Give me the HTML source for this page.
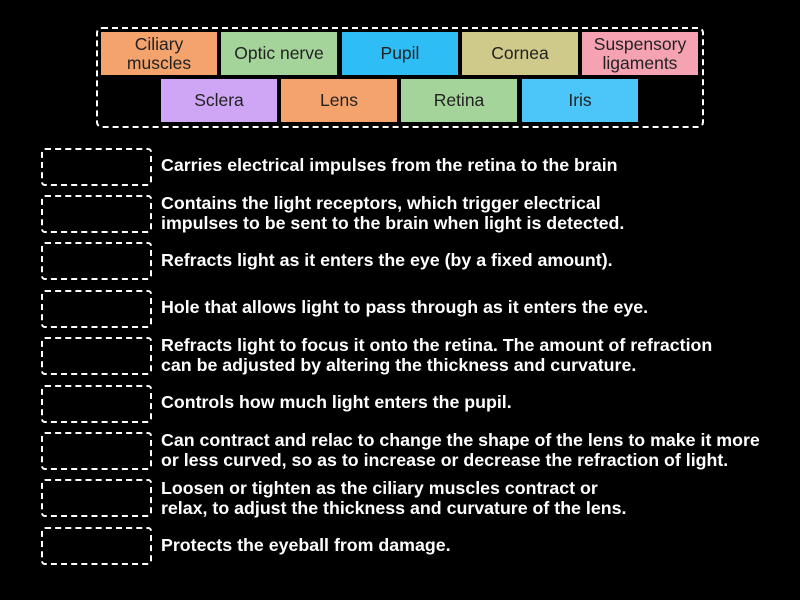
<!DOCTYPE html>
<html><head><style>
body{margin:0;width:800px;height:600px;background:#000;position:relative;overflow:hidden;font-family:"Liberation Sans","DejaVu Sans",sans-serif;}
.cont{position:absolute;left:96px;top:27px;width:604px;height:97px;border:2px dashed #fff;border-radius:6px;}
.t{position:absolute;height:43px;width:116px;display:flex;align-items:center;justify-content:center;text-align:center;font-size:17.5px;line-height:19px;color:#222;}
.b{position:absolute;left:41px;width:107px;height:34px;border:2px dashed #fff;border-radius:4px;}
.s{position:absolute;left:161px;color:#fff;font-weight:bold;font-size:17.8px;line-height:20px;white-space:nowrap;}
</style></head><body>
<div class="cont"></div>
<div class="t" style="left:101px;top:32px;background:#f5a36d">Ciliary<br>muscles</div>
<div class="t" style="left:221px;top:32px;background:#a5d49a">Optic nerve</div>
<div class="t" style="left:342px;top:32px;background:#2fbdf6">Pupil</div>
<div class="t" style="left:462px;top:32px;background:#cfca8a">Cornea</div>
<div class="t" style="left:582px;top:32px;background:#f5a3b2">Suspensory<br>ligaments</div>
<div class="t" style="left:161px;top:79px;background:#cfa6f5">Sclera</div>
<div class="t" style="left:281px;top:79px;background:#f5a36d">Lens</div>
<div class="t" style="left:401px;top:79px;background:#a5d49a">Retina</div>
<div class="t" style="left:522px;top:79px;background:#4cc6f8">Iris</div>

<div class="b" style="top:148px"></div>
<div class="b" style="top:195px"></div>
<div class="b" style="top:242px"></div>
<div class="b" style="top:290px"></div>
<div class="b" style="top:337px"></div>
<div class="b" style="top:385px"></div>
<div class="b" style="top:432px"></div>
<div class="b" style="top:479px"></div>
<div class="b" style="top:527px"></div>

<div class="s" style="top:155px">Carries electrical impulses from the retina to the brain</div>
<div class="s" style="top:193px">Contains the light receptors, which trigger electrical<br>impulses to be sent to the brain when light is detected.</div>
<div class="s" style="top:250px">Refracts light as it enters the eye (by a fixed amount).</div>
<div class="s" style="top:297px">Hole that allows light to pass through as it enters the eye.</div>
<div class="s" style="top:335px">Refracts light to focus it onto the retina. The amount of refraction<br>can be adjusted by altering the thickness and curvature.</div>
<div class="s" style="top:392px">Controls how much light enters the pupil.</div>
<div class="s" style="top:430px">Can contract and relac to change the shape of the lens to make it more<br>or less curved, so as to increase or decrease the refraction of light.</div>
<div class="s" style="top:478px">Loosen or tighten as the ciliary muscles contract or<br>relax, to adjust the thickness and curvature of the lens.</div>
<div class="s" style="top:535px">Protects the eyeball from damage.</div>
</body></html>
